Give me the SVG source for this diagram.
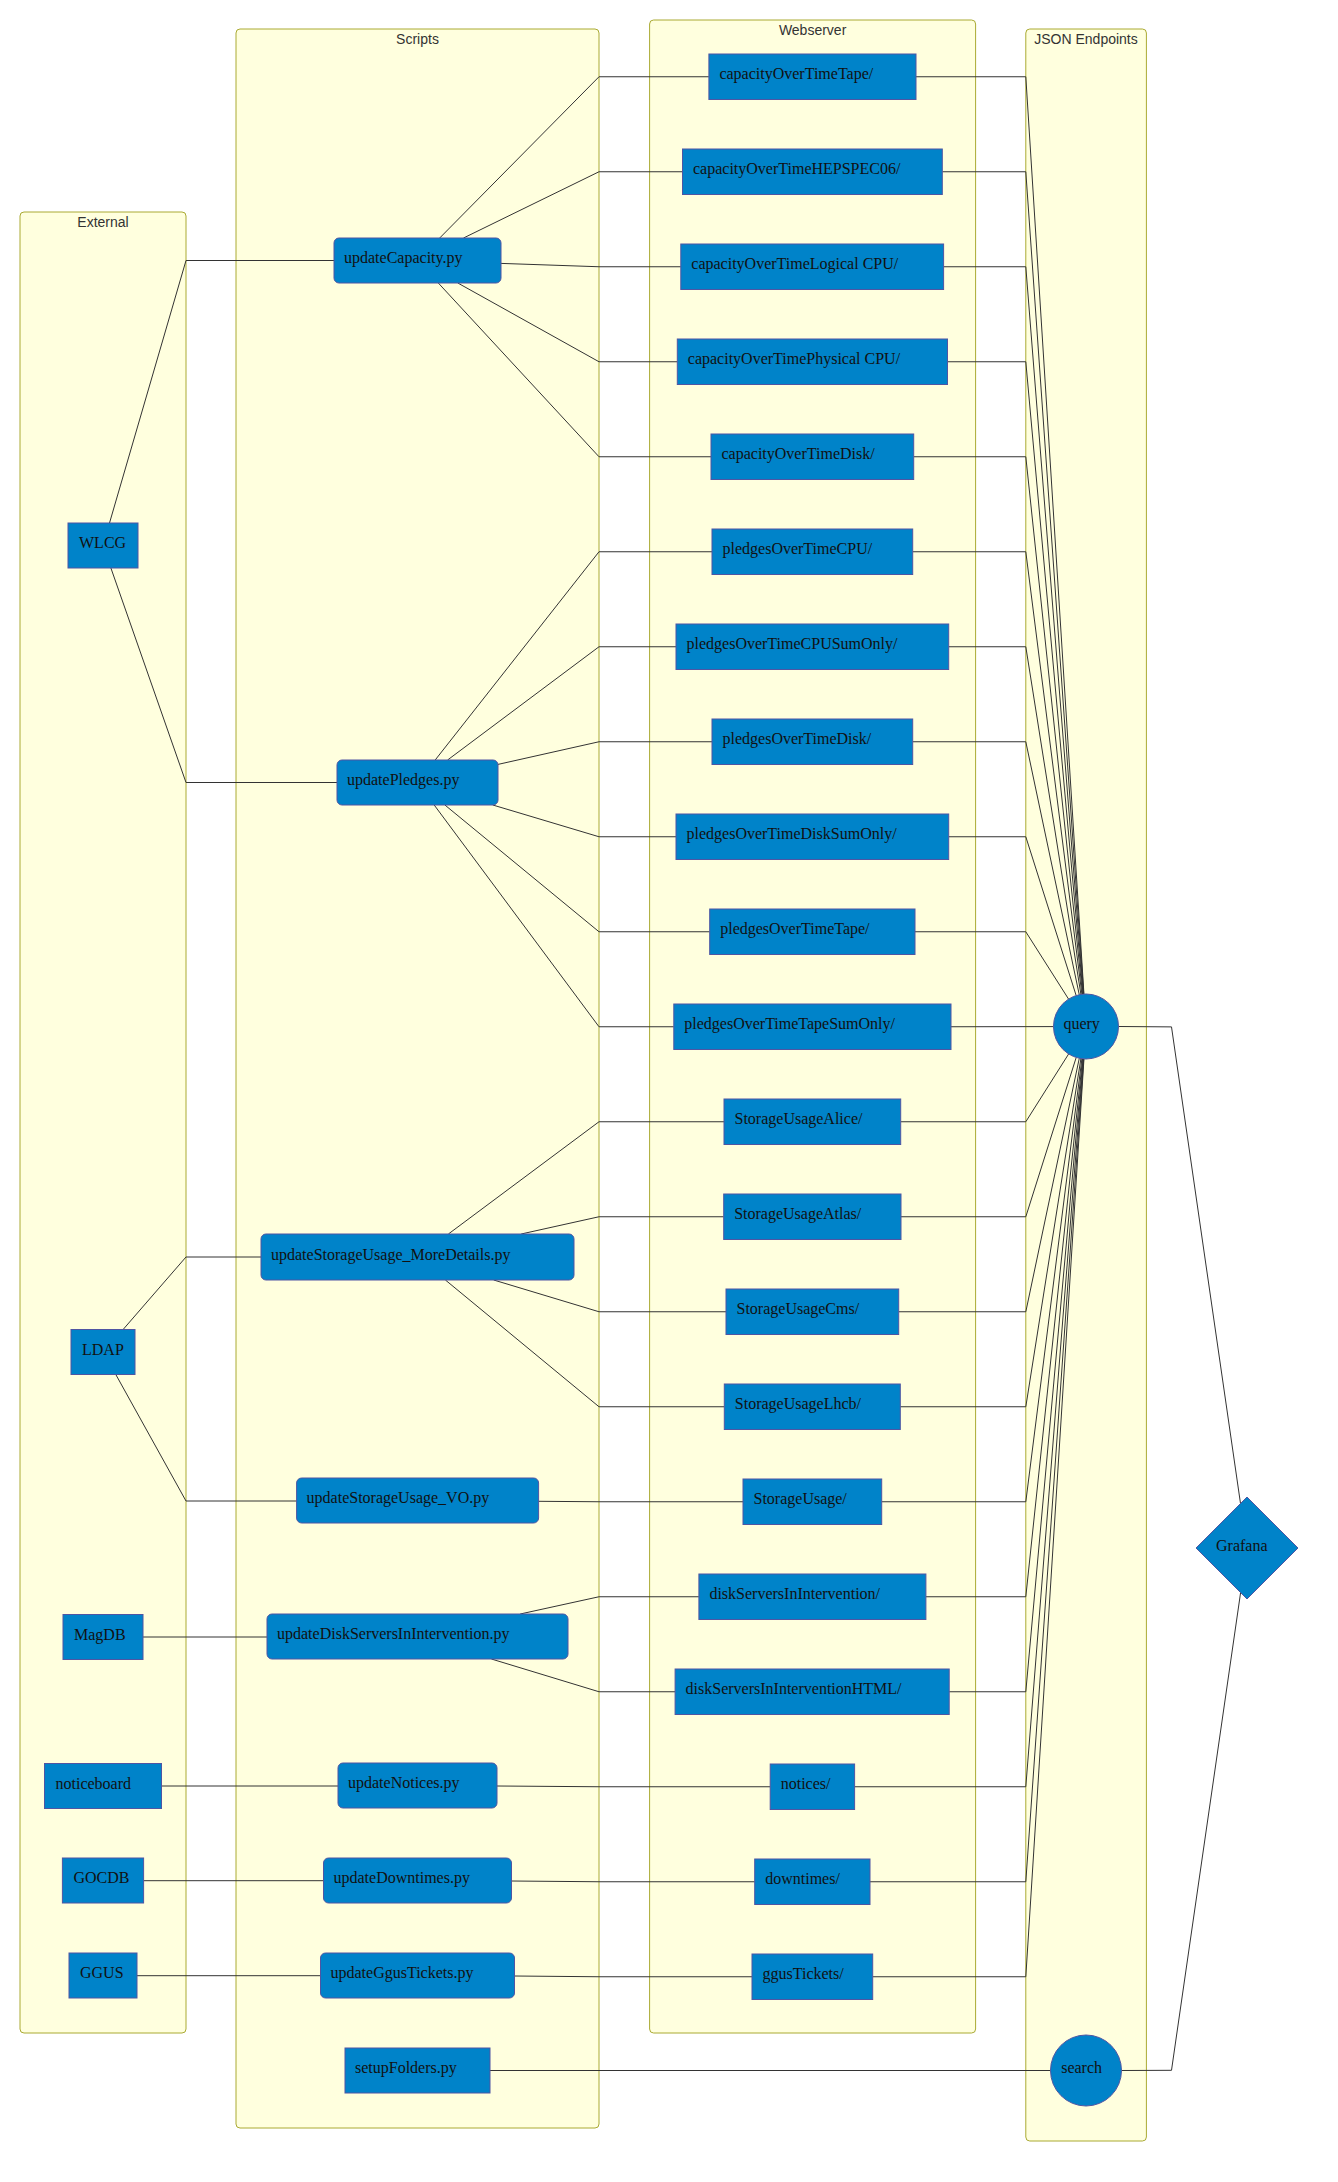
<svg xmlns="http://www.w3.org/2000/svg" width="1338" height="2182" viewBox="0 0 1338 2182">
<style>
.cluster{fill:#ffffde;stroke:#aaaa33;stroke-width:1}
.ctitle{font-family:"Liberation Sans",Arial,sans-serif;font-size:14px;fill:#333;text-anchor:middle}
.nd{fill:#0083c9;stroke:#4f55a3;stroke-width:1}
.lbl{font-family:"Liberation Serif","Times New Roman",serif;font-size:16px;fill:#111}
.edges polyline{fill:none;stroke:#333;stroke-width:1}
</style>
<rect width="1338" height="2182" fill="#ffffff"/>
<g id="clusters">
<g id="cluster-External"><rect class="cluster" x="20" y="212" width="166" height="1821" rx="4"/><text class="ctitle" x="103" y="227">External</text></g>
<g id="cluster-Scripts"><rect class="cluster" x="236" y="29" width="363" height="2099" rx="4"/><text class="ctitle" x="417.5" y="43.5">Scripts</text></g>
<g id="cluster-Webserver"><rect class="cluster" x="649.6" y="20" width="326" height="2013" rx="4"/><text class="ctitle" x="812.6" y="34.5">Webserver</text></g>
<g id="cluster-JSON"><rect class="cluster" x="1025.8" y="29" width="120.6" height="2112" rx="4"/><text class="ctitle" x="1086" y="43.5">JSON Endpoints</text></g>
</g>
<g id="connectors" class="edges">
<polyline points="109.5,523 186,260.5 334,260.5"/>
<polyline points="110.9,568 186,782.5 337,782.5"/>
<polyline points="123.1,1329.5 186,1257 261,1257"/>
<polyline points="115.8,1374.5 186,1501 296.6,1501"/>
<polyline points="143,1637 267,1637"/>
<polyline points="161.5,1786 338,1786"/>
<polyline points="143.6,1880.7 323.5,1880.7"/>
<polyline points="137,1975.7 320.5,1975.7"/>
<polyline points="439.7,238 599,76.75 708.9,76.75"/>
<polyline points="463.5,238 599,171.75 682.5,171.75"/>
<polyline points="501,263.4 599,266.75 680.8,266.75"/>
<polyline points="457.8,283 599,361.75 677.3,361.75"/>
<polyline points="438.3,283 599,456.75 711,456.75"/>
<polyline points="435.2,760 599,551.75 712,551.75"/>
<polyline points="447.6,760 599,646.75 676,646.75"/>
<polyline points="498,764.4 599,741.75 712,741.75"/>
<polyline points="492.8,805 599,836.75 676,836.75"/>
<polyline points="444.9,805 599,931.75 709.7,931.75"/>
<polyline points="434.2,805 599,1026.75 673.8,1026.75"/>
<polyline points="448.4,1234 599,1121.75 724,1121.75"/>
<polyline points="521.2,1234 599,1216.75 723.7,1216.75"/>
<polyline points="493.7,1280 599,1311.75 726,1311.75"/>
<polyline points="445.4,1280 599,1406.75 724.3,1406.75"/>
<polyline points="538.5,1501.3 599,1501.75 743,1501.75"/>
<polyline points="520.2,1614 599,1596.75 698.9,1596.75"/>
<polyline points="491.4,1659 599,1691.75 675.1,1691.75"/>
<polyline points="497,1786 599,1786.75 770.2,1786.75"/>
<polyline points="511.5,1881 599,1881.75 754.7,1881.75"/>
<polyline points="514.5,1976 599,1976.75 752,1976.75"/>
<polyline points="490,2070.5 1050.5,2070.5"/>
<polyline points="916,76.75 1025.8,76.75 1083.94,994.07"/>
<polyline points="942.3,171.75 1025.8,171.75 1083.72,994.08"/>
<polyline points="943.6,266.75 1025.8,266.75 1083.43,994.1"/>
<polyline points="947.5,361.75 1025.8,361.75 1083.07,994.13"/>
<polyline points="913.7,456.75 1025.8,456.75 1082.58,994.18"/>
<polyline points="912.7,551.75 1025.8,551.75 1081.91,994.26"/>
<polyline points="948.7,646.75 1025.8,646.75 1080.91,994.4"/>
<polyline points="912.7,741.75 1025.8,741.75 1079.28,994.7"/>
<polyline points="948.7,836.75 1025.8,836.75 1076.17,995.52"/>
<polyline points="915,931.75 1025.8,931.75 1068.57,999.07"/>
<polyline points="951,1026.75 1053.5,1026.6"/>
<polyline points="900.7,1121.75 1025.8,1121.75 1068.64,1053.97"/>
<polyline points="901,1216.75 1025.8,1216.75 1076.2,1057.49"/>
<polyline points="898.7,1311.75 1025.8,1311.75 1079.29,1058.3"/>
<polyline points="900.3,1406.75 1025.8,1406.75 1080.92,1058.6"/>
<polyline points="881.7,1501.75 1025.8,1501.75 1081.92,1058.74"/>
<polyline points="925.9,1596.75 1025.8,1596.75 1082.59,1058.82"/>
<polyline points="949.2,1691.75 1025.8,1691.75 1083.07,1058.87"/>
<polyline points="854.6,1786.75 1025.8,1786.75 1083.43,1058.9"/>
<polyline points="870,1881.75 1025.8,1881.75 1083.72,1058.92"/>
<polyline points="872.7,1976.75 1025.8,1976.75 1083.94,1058.94"/>
<polyline points="1118.5,1026.5 1171.5,1026.9 1240.5,1503.5"/>
<polyline points="1121.5,2070.5 1171.5,2070.3 1240.6,1592.6"/>
</g>
<g id="nodes">
<g id="WLCG"><rect class="nd" x="68" y="523" width="70" height="45"/><text class="lbl" x="79" y="548">WLCG</text></g>
<g id="LDAP"><rect class="nd" x="71" y="1329.5" width="64" height="45"/><text class="lbl" x="82" y="1354.5">LDAP</text></g>
<g id="MagDB"><rect class="nd" x="63" y="1614.5" width="80" height="45"/><text class="lbl" x="74" y="1639.5">MagDB</text></g>
<g id="noticeboard"><rect class="nd" x="44.5" y="1763.5" width="117" height="45"/><text class="lbl" x="55.5" y="1788.5">noticeboard</text></g>
<g id="GOCDB"><rect class="nd" x="62.4" y="1858" width="81.2" height="45"/><text class="lbl" x="73.4" y="1883">GOCDB</text></g>
<g id="GGUS"><rect class="nd" x="69" y="1953" width="68" height="45"/><text class="lbl" x="80" y="1978">GGUS</text></g>

<g id="updateCapacity"><rect class="nd" x="334" y="238" width="167" height="45" rx="5"/><text class="lbl" x="344" y="263">updateCapacity.py</text></g>
<g id="updatePledges"><rect class="nd" x="337" y="760" width="161" height="45" rx="5"/><text class="lbl" x="347" y="785">updatePledges.py</text></g>
<g id="updateStorageUsage_MoreDetails"><rect class="nd" x="261" y="1234" width="313" height="46" rx="5"/><text class="lbl" x="271" y="1259.5">updateStorageUsage_MoreDetails.py</text></g>
<g id="updateStorageUsage_VO"><rect class="nd" x="296.6" y="1478" width="242" height="45" rx="5"/><text class="lbl" x="306.6" y="1503">updateStorageUsage_VO.py</text></g>
<g id="updateDiskServersInIntervention"><rect class="nd" x="267" y="1614" width="301" height="45" rx="5"/><text class="lbl" x="277" y="1639">updateDiskServersInIntervention.py</text></g>
<g id="updateNotices"><rect class="nd" x="338" y="1763" width="159" height="45" rx="5"/><text class="lbl" x="348" y="1788">updateNotices.py</text></g>
<g id="updateDowntimes"><rect class="nd" x="323.5" y="1858" width="188" height="45" rx="5"/><text class="lbl" x="333.5" y="1883">updateDowntimes.py</text></g>
<g id="updateGgusTickets"><rect class="nd" x="320.5" y="1953" width="194" height="45" rx="5"/><text class="lbl" x="330.5" y="1978">updateGgusTickets.py</text></g>
<g id="setupFolders"><rect class="nd" x="345" y="2048" width="145" height="45"/><text class="lbl" x="355" y="2073">setupFolders.py</text></g>

<g id="capacityOverTimeTape"><rect class="nd" x="708.9" y="54" width="207.1" height="45.5"/><text class="lbl" x="719.4" y="79.25">capacityOverTimeTape/</text></g>
<g id="capacityOverTimeHEPSPEC06"><rect class="nd" x="682.5" y="149" width="259.8" height="45.5"/><text class="lbl" x="693" y="174.25">capacityOverTimeHEPSPEC06/</text></g>
<g id="capacityOverTimeLogicalCPU"><rect class="nd" x="680.8" y="244" width="262.8" height="45.5"/><text class="lbl" x="691.3" y="269.25">capacityOverTimeLogical CPU/</text></g>
<g id="capacityOverTimePhysicalCPU"><rect class="nd" x="677.3" y="339" width="270.2" height="45.5"/><text class="lbl" x="687.8" y="364.25">capacityOverTimePhysical CPU/</text></g>
<g id="capacityOverTimeDisk"><rect class="nd" x="711" y="434" width="202.7" height="45.5"/><text class="lbl" x="721.5" y="459.25">capacityOverTimeDisk/</text></g>
<g id="pledgesOverTimeCPU"><rect class="nd" x="712" y="529" width="200.7" height="45.5"/><text class="lbl" x="722.5" y="554.25">pledgesOverTimeCPU/</text></g>
<g id="pledgesOverTimeCPUSumOnly"><rect class="nd" x="676" y="624" width="272.7" height="45.5"/><text class="lbl" x="686.5" y="649.25">pledgesOverTimeCPUSumOnly/</text></g>
<g id="pledgesOverTimeDisk"><rect class="nd" x="712" y="719" width="200.7" height="45.5"/><text class="lbl" x="722.5" y="744.25">pledgesOverTimeDisk/</text></g>
<g id="pledgesOverTimeDiskSumOnly"><rect class="nd" x="676" y="814" width="272.7" height="45.5"/><text class="lbl" x="686.5" y="839.25">pledgesOverTimeDiskSumOnly/</text></g>
<g id="pledgesOverTimeTape"><rect class="nd" x="709.7" y="909" width="205.3" height="45.5"/><text class="lbl" x="720.2" y="934.25">pledgesOverTimeTape/</text></g>
<g id="pledgesOverTimeTapeSumOnly"><rect class="nd" x="673.8" y="1004" width="277.2" height="45.5"/><text class="lbl" x="684.3" y="1029.25">pledgesOverTimeTapeSumOnly/</text></g>
<g id="StorageUsageAlice"><rect class="nd" x="724" y="1099" width="176.7" height="45.5"/><text class="lbl" x="734.5" y="1124.25">StorageUsageAlice/</text></g>
<g id="StorageUsageAtlas"><rect class="nd" x="723.7" y="1194" width="177.3" height="45.5"/><text class="lbl" x="734.2" y="1219.25">StorageUsageAtlas/</text></g>
<g id="StorageUsageCms"><rect class="nd" x="726" y="1289" width="172.7" height="45.5"/><text class="lbl" x="736.5" y="1314.25">StorageUsageCms/</text></g>
<g id="StorageUsageLhcb"><rect class="nd" x="724.3" y="1384" width="176" height="45.5"/><text class="lbl" x="734.8" y="1409.25">StorageUsageLhcb/</text></g>
<g id="StorageUsage"><rect class="nd" x="743" y="1479" width="138.7" height="45.5"/><text class="lbl" x="753.5" y="1504.25">StorageUsage/</text></g>
<g id="diskServersInIntervention"><rect class="nd" x="698.9" y="1574" width="227" height="45.5"/><text class="lbl" x="709.4" y="1599.25">diskServersInIntervention/</text></g>
<g id="diskServersInInterventionHTML"><rect class="nd" x="675.1" y="1669" width="274.1" height="45.5"/><text class="lbl" x="685.6" y="1694.25">diskServersInInterventionHTML/</text></g>
<g id="notices"><rect class="nd" x="770.2" y="1764" width="84.4" height="45.5"/><text class="lbl" x="780.7" y="1789.25">notices/</text></g>
<g id="downtimes"><rect class="nd" x="754.7" y="1859" width="115.3" height="45.5"/><text class="lbl" x="765.2" y="1884.25">downtimes/</text></g>
<g id="ggusTickets"><rect class="nd" x="752" y="1954" width="120.7" height="45.5"/><text class="lbl" x="762.5" y="1979.25">ggusTickets/</text></g>

<g id="query"><circle class="nd" cx="1086" cy="1026.5" r="32.5"/><text class="lbl" x="1063.4" y="1029">query</text></g>
<g id="search"><circle class="nd" cx="1086" cy="2070.5" r="35.5"/><text class="lbl" x="1061.2" y="2073">search</text></g>
<g id="Grafana"><polygon class="nd" points="1247,1497 1298,1548 1247,1599 1196,1548"/><text class="lbl" x="1216" y="1550.5">Grafana</text></g>
</g>
</svg>
